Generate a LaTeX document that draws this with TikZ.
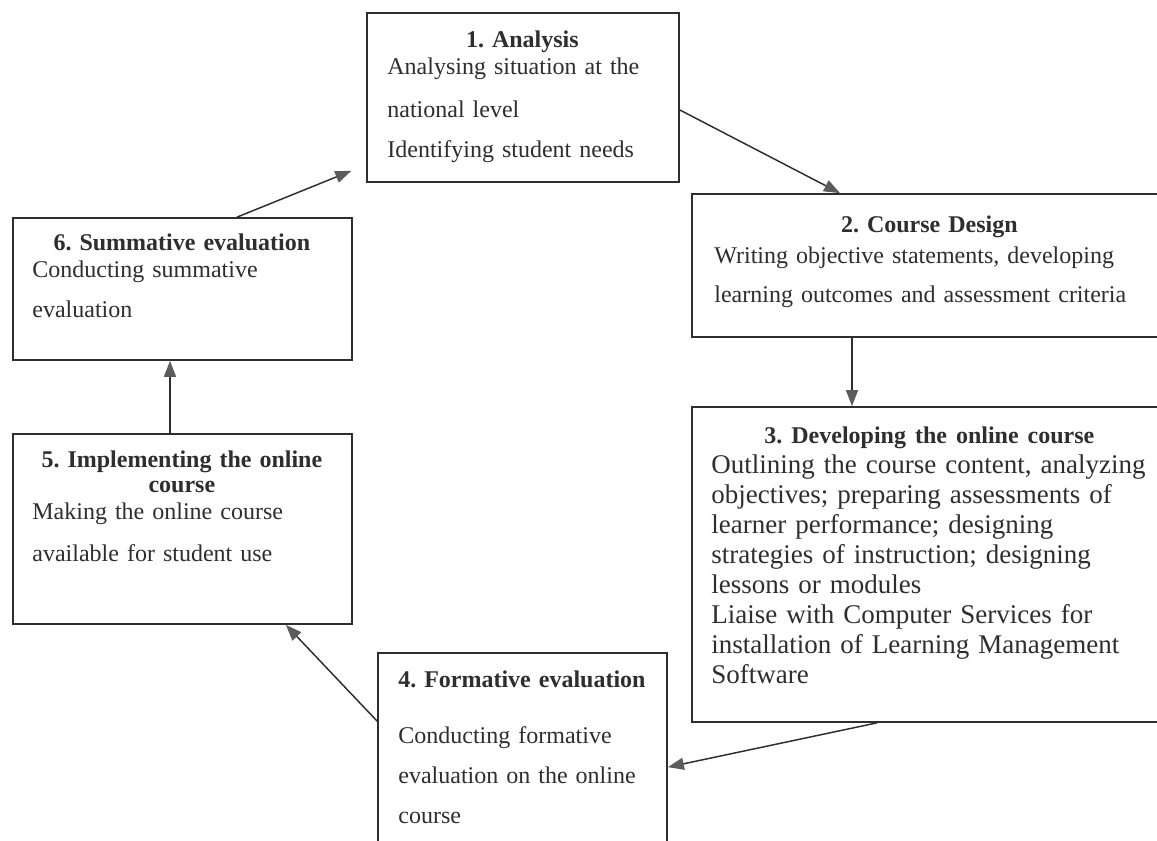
\documentclass[tikz,border=0pt]{standalone}
\usepackage{fontspec}
\setmainfont{Liberation Serif}
\usepackage{xcolor}
\usetikzlibrary{positioning,arrows.meta,calc,fit}

\definecolor{inkgray}{HTML}{2E2E2E}
\definecolor{tipgray}{HTML}{5C5C5C}

% centred bold heading of a stage box
\newcommand{\stagetitle}[1]{\makebox[\linewidth]{\bfseries #1}\par}

\tikzset{
  stagebox/.style={draw=inkgray, line width=1.3pt, inner sep=0pt},
  stagetext/.style={anchor=north west, inner sep=0pt, align=left, text=inkgray,
    font=\fontsize{18}{20.25}\selectfont\frenchspacing},
  flow/.style={draw=inkgray, line width=1.1pt,
    -{Triangle[length=12pt, width=9pt, color=tipgray]}}
}

\begin{document}
\begin{tikzpicture}[x=0.75pt, y=-0.75pt]

  % Canvas
  \path[fill=white, use as bounding box] (0,0) rectangle (1157,841);

  % Stage boxes
  \node[stagebox, fit={(367,13) (679,182)}] (analysis) {};
  \node[stagebox, fit={(692,194) (1168,337)}] (design) {};
  \node[stagebox, fit={(692,407) (1168,722)}] (develop) {};
  \node[stagebox, fit={(378,653) (667,870)}] (formative) {};
  \node[stagebox, fit={(13,434) (352,624)}] (implement) {};
  \node[stagebox, fit={(13,218) (352,360)}] (summative) {};

  % Stage texts
  \node[stagetext, text width=202.5pt] (analysis-txt) at ($(analysis.north west)+(21,18)$)
    {\stagetitle{1. Analysis}
     Analysing situation at the\\[12pt]
     national level\\[9.75pt]
     Identifying student needs};

  \node[stagetext, text width=322.5pt] (design-txt) at ($(design.north west)+(23,22)$)
    {\stagetitle{2. Course Design}\vspace{3pt}
     Writing objective statements, developing\\[9pt]
     learning outcomes and assessment criteria};

  \node[stagetext, text width=327pt, font=\fontsize{20.25}{22.5}\selectfont\frenchspacing] (develop-txt)
    at ($(develop.north west)+(20,20)$)
    {{\fontsize{18}{22.5}\selectfont\stagetitle{3. Developing the online course}}
     Outlining the course content, analyzing\\
     objectives; preparing assessments of\\
     learner performance; designing\\
     strategies of instruction; designing\\
     lessons or modules\\
     Liaise with Computer Services for\\
     installation of Learning Management\\
     Software};

  \node[stagetext, text width=185.25pt] (formative-txt) at ($(formative.north west)+(21,18)$)
    {\stagetitle{4. Formative evaluation}\vspace{21.75pt}
     Conducting formative\\[9.75pt]
     evaluation on the online\\[9.75pt]
     course};

  \node[stagetext, text width=224.25pt] (implement-txt) at ($(implement.north west)+(20,17)$)
    {{\centering\bfseries 5. Implementing the online\\[-1.5pt] course\par}
     Making the online course\\[11.25pt]
     available for student use};

  \node[stagetext, text width=224.25pt] (summative-txt) at ($(summative.north west)+(20,16)$)
    {\stagetitle{6. Summative evaluation}
     Conducting summative\\[9.75pt]
     evaluation};

  % Cycle arrows
  \draw[flow] ($(analysis.east)+(0,12.5)$) -- ($(design.north)+(-90,0)$);
  \draw[flow] ($(design.south)+(-78,0)$) -- ($(develop.north)+(-78,0)$);
  \draw[flow] ($(develop.south)+(-53,0)$) -- ($(formative.north east)+(0,115)$);
  \draw[flow] ($(formative.north west)+(0,69)$) -- ($(implement.south east)+(-67,0)$);
  \draw[flow] ($(implement.north)+(-12.5,0)$) -- ($(summative.south)+(-12.5,0)$);
  \draw[flow, shorten >=12pt] ($(summative.north)+(54.5,0)$) -- ($(analysis.south west)+(0,-18)$);

\end{tikzpicture}
\end{document}
